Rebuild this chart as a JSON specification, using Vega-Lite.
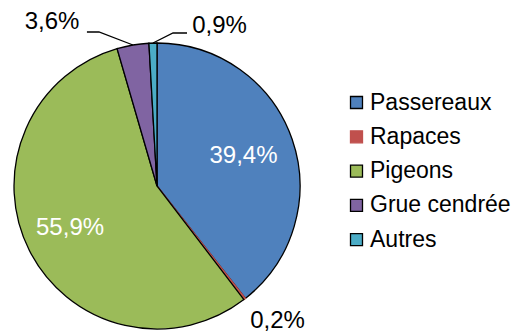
{
  "$schema": "https://vega.github.io/schema/vega-lite/v6.json",
  "width": 517,
  "height": 334,
  "autosize": {"type": "none"},
  "padding": 0,
  "background": "white",
  "config": {"view": {"stroke": null}, "font": "Liberation Sans"},
  "datasets": {
    "slices": [
      {"cat": "Passereaux", "v": 39.4, "o": 1, "cx": 0, "cy": 0},
      {"cat": "Rapaces", "v": 0.2, "o": 2, "cx": 0, "cy": 0},
      {"cat": "Pigeons", "v": 55.9, "o": 3, "cx": 0, "cy": 0},
      {"cat": "Grue cendrée", "v": 3.6, "o": 4, "cx": 0, "cy": 0},
      {"cat": "Autres", "v": 0.9, "o": 5, "cx": 0, "cy": 0}
    ],
    "inner": [
      {"t": "39,4%", "x": 0.605, "y": 0.213},
      {"t": "55,9%", "x": -0.608, "y": -0.294}
    ],
    "outer": [
      {"t": "3,6%", "x": -0.734, "y": 1.147},
      {"t": "0,9%", "x": 0.437, "y": 1.119},
      {"t": "0,2%", "x": 0.843, "y": -0.944}
    ],
    "leaders": [
      {"g": "grue", "o": 1, "x": -0.490, "y": 1.077},
      {"g": "grue", "o": 2, "x": -0.406, "y": 1.077},
      {"g": "grue", "o": 3, "x": -0.168, "y": 0.986},
      {"g": "autres", "o": 1, "x": 0.210, "y": 1.070},
      {"g": "autres", "o": 2, "x": 0.112, "y": 1.070},
      {"g": "autres", "o": 3, "x": -0.028, "y": 1.0}
    ]
  },
  "resolve": {"scale": {"x": "shared", "y": "shared"}},
  "layer": [
    {
      "data": {"name": "slices"},
      "mark": {"type": "arc", "outerRadius": 143, "strokeWidth": 1.3},
      "encoding": {
        "x": {"field": "cx", "type": "quantitative", "scale": {"domain": [-1.0979, 2.5175], "nice": false, "zero": false}, "axis": null},
        "y": {"field": "cy", "type": "quantitative", "scale": {"domain": [-1.035, 1.3007], "nice": false, "zero": false}, "axis": null},
        "theta": {"field": "v", "type": "quantitative", "stack": true},
        "order": {"field": "o", "type": "quantitative"},
        "fill": {
          "field": "cat", "type": "nominal",
          "scale": {"domain": ["Passereaux", "Rapaces", "Pigeons", "Grue cendrée", "Autres"], "range": ["#4F81BD", "#C0504D", "#9BBB59", "#8064A2", "#4BACC6"]},
          "legend": {"orient": "none", "legendX": 345, "legendY": 91, "title": null, "padding": 0, "symbolType": "square", "symbolSize": 144, "symbolStrokeWidth": 1.3, "labelFontSize": 23, "labelFont": "Liberation Sans", "labelColor": "#000000", "labelOffset": 2, "rowPadding": 10.3, "labelLimit": 300}
        },
        "stroke": {
          "field": "cat", "type": "nominal",
          "scale": {"domain": ["Passereaux", "Rapaces", "Pigeons", "Grue cendrée", "Autres"], "range": ["#000000", "#C0504D", "#000000", "#000000", "#000000"]},
          "legend": {"orient": "none", "legendX": 345, "legendY": 91, "title": null, "padding": 0, "symbolType": "square", "symbolSize": 144, "symbolStrokeWidth": 1.3, "labelFontSize": 23, "labelFont": "Liberation Sans", "labelColor": "#000000", "labelOffset": 2, "rowPadding": 10.3, "labelLimit": 300}
        }
      }
    },
    {
      "data": {"name": "leaders"},
      "mark": {"type": "line", "color": "#000000", "strokeWidth": 1.3},
      "encoding": {
        "x": {"field": "x", "type": "quantitative"},
        "y": {"field": "y", "type": "quantitative"},
        "detail": {"field": "g"},
        "order": {"field": "o", "type": "quantitative"}
      }
    },
    {
      "data": {"name": "inner"},
      "mark": {"type": "text", "fontSize": 24, "color": "#FFFFFF", "font": "Liberation Sans", "baseline": "middle", "align": "center"},
      "encoding": {
        "x": {"field": "x", "type": "quantitative"},
        "y": {"field": "y", "type": "quantitative"},
        "text": {"field": "t"}
      }
    },
    {
      "data": {"name": "outer"},
      "mark": {"type": "text", "fontSize": 24, "color": "#000000", "font": "Liberation Sans", "baseline": "middle", "align": "center"},
      "encoding": {
        "x": {"field": "x", "type": "quantitative"},
        "y": {"field": "y", "type": "quantitative"},
        "text": {"field": "t"}
      }
    }
  ]
}
